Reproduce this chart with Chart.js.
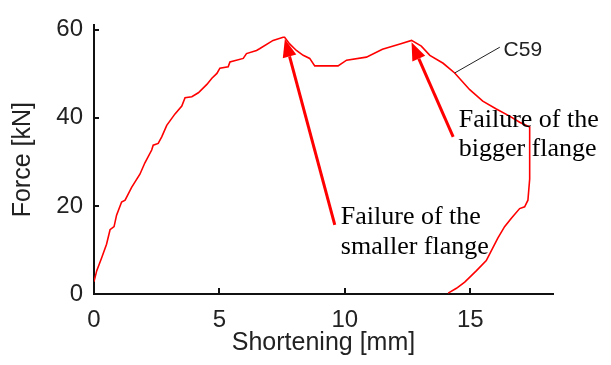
<!DOCTYPE html>
<html>
<head>
<meta charset="utf-8">
<title>C59 force-shortening</title>
<script src="https://cdn.jsdelivr.net/npm/chart.js@4.4.1/dist/chart.umd.min.js"></script>
<style>
    html, body { margin: 0; padding: 0; background: #ffffff; }
    #force-chart { display: block; }
</style>
</head>
<body>
<canvas id="force-chart" width="611" height="365"></canvas>
<script>
// Test C59: shortening [mm] vs force [kN], loading then unloading
const shortening = [0, 0.11, 0.31, 0.5, 0.64, 0.8, 0.9, 1.1, 1.24, 1.5, 1.83, 2.03, 2.3, 2.36, 2.56, 2.7, 2.9, 3.23, 3.5, 3.63,
    3.9, 4.16, 4.36, 4.5, 4.7, 4.9, 5.02, 5.35, 5.42, 5.95, 6.08, 6.48, 6.6, 7.14, 7.54, 7.6, 7.8, 8.07, 8.34, 8.6,
    8.8, 9.73, 10.07, 10.86, 11.5, 12.2, 12.66, 13.05, 13.39, 13.92, 14.38, 14.98, 15.5, 16.04, 16.57, 16.97, 17.37, 17.37, 17.3, 17.17,
    16.97, 16.64, 16.37, 16.1, 15.9, 15.64, 15.25, 14.78, 14.45, 14.12];
const force = [2.8, 5.3, 8.3, 11.3, 14.6, 15.3, 17.9, 20.9, 21.3, 24.2, 27.2, 29.8, 32.7, 33.8, 34.2, 35.7, 38.3, 40.9, 42.7, 44.6,
    44.8, 45.7, 46.8, 47.6, 49.0, 50.1, 51.3, 51.6, 52.7, 53.5, 54.6, 55.3, 55.7, 57.6, 58.3, 58.3, 56.8, 55.3, 54.2, 53.5,
    51.8, 51.8, 53.1, 53.8, 55.6, 56.8, 57.6, 56.3, 54.2, 52.4, 50.2, 46.4, 43.8, 42.0, 40.4, 39.0, 37.9, 26.1, 21.3, 19.8,
    19.4, 17.2, 15.3, 12.7, 10.5, 7.6, 5.3, 2.7, 1.3, 0.2];

const xTicks = [0, 5, 10, 15];
const yTicks = [0, 20, 40, 60];

// Arrows pointing at the two failure peaks (data units)
const failureArrows = [
    { from: [9.6, 15.7], to: [7.61, 57.9] },
    { from: [14.32, 35.7], to: [12.66, 57.2] }
];
const failureNotes = [
    { at: [9.84, 15.8], lines: ['Failure of the', 'smaller flange'] },
    { at: [14.54, 38.0], lines: ['Failure of the', 'bigger flange'] }
];
const specimenLabel = { text: 'C59', from: [14.38, 50.2], to: [16.18, 56.05], at: [16.33, 55.3] };

const points = shortening.map((x, i) => ({ x: x, y: force[i] }));

// Draws inward tick marks, arrows and text notes on top of the plot
const extrasPlugin = {
    id: 'extras',
    afterDraw(chart) {
        const ctx = chart.ctx;
        const xs = chart.scales.x;
        const ys = chart.scales.y;
        const px = v => xs.getPixelForValue(v);
        const py = v => ys.getPixelForValue(v);
        const area = chart.chartArea;

        ctx.save();

        // inward ticks
        ctx.strokeStyle = '#111';
        ctx.lineWidth = 2;
        ctx.beginPath();
        xTicks.slice(1).forEach(t => {
            const x = Math.round(px(t));
            ctx.moveTo(x, area.bottom);
            ctx.lineTo(x, area.bottom - 6);
        });
        yTicks.slice(1).forEach(t => {
            const y = Math.round(py(t));
            ctx.moveTo(area.left, y);
            ctx.lineTo(area.left + 5, y);
        });
        ctx.stroke();

        // red arrows
        failureArrows.forEach(a => {
            const x0 = px(a.from[0]), y0 = py(a.from[1]);
            const x1 = px(a.to[0]), y1 = py(a.to[1]);
            const ang = Math.atan2(y1 - y0, x1 - x0);
            const headLen = 18, headHalf = 7;
            const bx = x1 - headLen * Math.cos(ang);
            const by = y1 - headLen * Math.sin(ang);

            ctx.strokeStyle = '#ff0000';
            ctx.fillStyle = '#ff0000';
            ctx.lineWidth = 3;
            ctx.beginPath();
            ctx.moveTo(x0, y0);
            ctx.lineTo(bx, by);
            ctx.stroke();

            ctx.beginPath();
            ctx.moveTo(x1, y1);
            ctx.lineTo(bx + headHalf * Math.sin(ang), by - headHalf * Math.cos(ang));
            ctx.lineTo(bx - headHalf * Math.sin(ang), by + headHalf * Math.cos(ang));
            ctx.closePath();
            ctx.fill();
        });

        // notes
        ctx.fillStyle = '#000';
        ctx.font = '26px "Liberation Serif", "Times New Roman", serif';
        ctx.textAlign = 'left';
        ctx.textBaseline = 'alphabetic';
        failureNotes.forEach(n => {
            const x = px(n.at[0]);
            const y = py(n.at[1]);
            n.lines.forEach((line, i) => ctx.fillText(line, x, y + i * 29.5));
        });

        // specimen label with leader line
        ctx.strokeStyle = '#222';
        ctx.lineWidth = 1;
        ctx.beginPath();
        ctx.moveTo(px(specimenLabel.from[0]), py(specimenLabel.from[1]));
        ctx.lineTo(px(specimenLabel.to[0]), py(specimenLabel.to[1]));
        ctx.stroke();
        ctx.fillStyle = '#222';
        ctx.font = '21px "Liberation Sans", Arial, sans-serif';
        ctx.textBaseline = 'middle';
        ctx.fillText(specimenLabel.text, px(specimenLabel.at[0]), py(specimenLabel.at[1]));

        ctx.restore();
    }
};

const axisFont = { family: '"Liberation Sans", Arial, sans-serif', size: 24 };
const titleFont = { family: '"Liberation Sans", Arial, sans-serif', size: 25 };

new Chart(document.getElementById('force-chart').getContext('2d'), {
    type: 'scatter',
    data: {
        datasets: [{
            label: 'C59',
            data: points,
            showLine: true,
            borderColor: '#ff0000',
            borderWidth: 1.6,
            pointRadius: 0,
            tension: 0,
            fill: false
        }]
    },
    options: {
        responsive: false,
        animation: false,
        devicePixelRatio: 1,
        layout: { padding: { left: 0, right: 58, top: 20, bottom: 0 } },
        scales: {
            x: {
                type: 'linear',
                min: 0,
                max: 18.3,
                afterBuildTicks: scale => { scale.ticks = xTicks.map(v => ({ value: v })); },
                afterFit: scale => { scale.height = 71; },
                ticks: { color: '#222', font: axisFont, padding: 12, maxRotation: 0 },
                grid: { display: true, drawOnChartArea: false, drawTicks: false },
                border: { display: true, color: '#111', width: 2 },
                title: { display: true, text: 'Shortening [mm]', color: '#222', font: titleFont, padding: { top: 0, bottom: 7 } }
            },
            y: {
                type: 'linear',
                min: 0,
                max: 61,
                afterBuildTicks: scale => { scale.ticks = yTicks.map(v => ({ value: v })); },
                afterFit: scale => { scale.width = 94; },
                ticks: { color: '#222', font: axisFont, padding: 11 },
                grid: { display: true, drawOnChartArea: false, drawTicks: false },
                border: { display: true, color: '#111', width: 2 },
                title: { display: true, text: 'Force [kN]', color: '#222', font: titleFont, padding: { top: 8, bottom: 0 } }
            }
        },
        plugins: {
            legend: { display: false },
            tooltip: { enabled: false }
        }
    },
    plugins: [extrasPlugin]
});
</script>
</body>
</html>
